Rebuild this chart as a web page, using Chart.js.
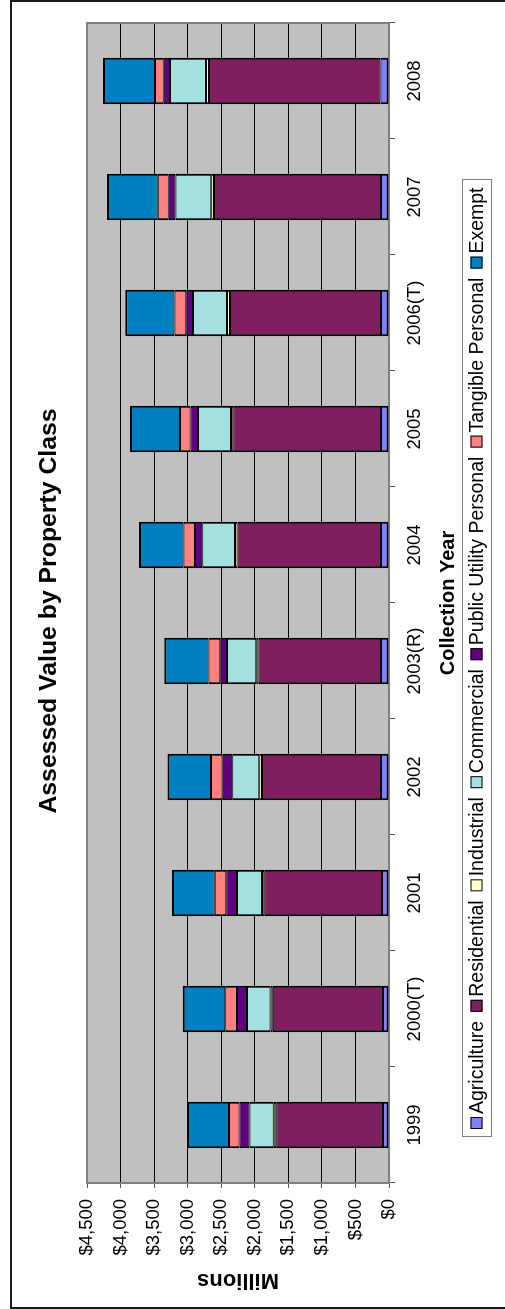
<!DOCTYPE html>
<html>
<head>
<meta charset="utf-8">
<title>Assessed Value by Property Class</title>
<script src="https://cdn.jsdelivr.net/npm/chart.js@4/dist/chart.umd.min.js"></script>
<style>
  html, body { margin: 0; padding: 0; background: #fff; overflow: hidden; }
  /* the landscape chart is turned a quarter turn counter-clockwise to fit the portrait page */
  #wrap {
    position: absolute; left: 0; top: 0;
    width: 1309px; height: 505px;
    transform-origin: 0 0;
    transform: translateY(1309px) rotate(-90deg);
  }
  canvas { display: block; }
</style>
</head>
<body>
<div id="wrap"><canvas id="c" width="1309" height="505"></canvas></div>
<script>
// Assessed value by property class, millions of dollars, per collection year
const years = ['1999', '2000(T)', '2001', '2002', '2003(R)', '2004', '2005', '2006(T)', '2007', '2008'];
const agriculture   = [89, 89, 104, 119, 119, 119, 119, 119, 119, 125];
const residential   = [1590, 1645, 1754, 1773, 1824, 2137, 2201, 2250, 2488, 2558];
const industrial    = [40, 30, 35, 40, 35, 40, 35, 45, 40, 45];
const commercial    = [358, 352, 372, 402, 437, 487, 492, 507, 536, 536];
const publicUtility = [149, 149, 159, 145, 100, 109, 110, 100, 100, 94];
const tangible      = [158, 174, 174, 173, 174, 170, 158, 174, 164, 130];
const exempt        = [626, 636, 635, 647, 660, 665, 745, 735, 754, 775];
const valueTicks    = [0, 500, 1000, 1500, 2000, 2500, 3000, 3500, 4000, 4500];

const FONT = '"Liberation Sans", Arial, Helvetica, sans-serif';
Chart.defaults.font.family = FONT;
Chart.defaults.color = '#000';

const money = v => '$' + Number(v).toLocaleString('en-US');

// Background, plot frame, title, boxed legend and outer border
const frame = {
  id: 'frame',
  beforeDraw(chart) {
    const { ctx, chartArea: a } = chart;
    ctx.save();
    ctx.fillStyle = '#fff';
    ctx.fillRect(0, 0, chart.width, chart.height);
    ctx.fillStyle = '#C0C0C0';
    ctx.fillRect(a.left, a.top, a.right - a.left, a.bottom - a.top);
    ctx.restore();
  },
  beforeDatasetsDraw(chart) {
    const { ctx, chartArea: a } = chart;
    ctx.save();
    ctx.strokeStyle = '#808080';
    ctx.lineWidth = 2;
    ctx.strokeRect(a.left, a.top, a.right - a.left, a.bottom - a.top);
    ctx.restore();
  },
  afterDraw(chart) {
    const { ctx } = chart;
    ctx.save();
    // outer chart border
    ctx.strokeStyle = '#1a1a1a';
    ctx.lineWidth = 2;
    ctx.strokeRect(1, 11, chart.width - 2, chart.height + 20);

    // title
    ctx.fillStyle = '#000';
    ctx.font = 'bold 24.8px ' + FONT;
    ctx.textAlign = 'center';
    ctx.textBaseline = 'middle';
    ctx.fillText('Assessed Value by Property Class', 698, 49);

    // legend
    ctx.font = '19.5px ' + FONT;
    ctx.textAlign = 'left';
    const box = 12, gapIn = 3, gapOut = 9;
    const items = chart.data.datasets.map(d => ({
      label: d.label, color: d.backgroundColor, w: ctx.measureText(d.label).width
    }));
    const content = items.reduce((s, it) => s + box + gapIn + it.w, 0) + gapOut * (items.length - 1);
    const cy = 476.5;
    let x = Math.round(650.5 - content / 2);
    ctx.strokeStyle = '#808080';
    ctx.lineWidth = 1;
    ctx.strokeRect(x - 7.5, 462.5, Math.round(content) + 15, 29);
    items.forEach(it => {
      ctx.fillStyle = it.color;
      ctx.fillRect(x, cy - 6, box, box);
      ctx.strokeStyle = '#000';
      ctx.strokeRect(x + 0.5, cy - 5.5, box - 1, box - 1);
      ctx.fillStyle = '#000';
      ctx.fillText(it.label, x + box + gapIn, cy + 1);
      x += box + gapIn + it.w + gapOut;
    });
    ctx.restore();
  }
};

const series = [
  ['Agriculture', agriculture, '#8080FF'],
  ['Residential', residential, '#7F1F5F'],
  ['Industrial', industrial, '#FFFFC8'],
  ['Commercial', commercial, '#A4E0E0'],
  ['Public Utility Personal', publicUtility, '#600080'],
  ['Tangible Personal', tangible, '#FF8080'],
  ['Exempt', exempt, '#0080C0']
];

new Chart(document.getElementById('c'), {
  type: 'bar',
  data: {
    labels: years,
    datasets: series.map(([label, data, color], i) => ({
      label, data,
      backgroundColor: color,
      borderColor: '#000',
      borderSkipped: false,
      borderWidth: { left: 2, right: 2, top: i === series.length - 1 ? 2 : 1, bottom: i === 0 ? 2 : 1 },
      categoryPercentage: 1,
      barPercentage: 0.4
    }))
  },
  options: {
    responsive: false,
    animation: false,
    devicePixelRatio: 1,
    layout: { padding: { left: 0, top: 87, right: 23, bottom: 0 } },
    plugins: {
      legend: { display: false },
      title: { display: false },
      tooltip: { enabled: false }
    },
    scales: {
      x: {
        stacked: true,
        offset: true,
        grid: { offset: true, drawOnChartArea: false, drawTicks: true, tickLength: 6, tickColor: '#555' },
        border: { display: false },
        ticks: { font: { size: 18.5 }, padding: 9, maxRotation: 0, autoSkip: false },
        title: { display: true, text: 'Collection Year', font: { size: 20, weight: 'bold' }, padding: { top: 0, bottom: 45 } },
        afterFit: s => { s.height = 116; }
      },
      y: {
        stacked: true,
        min: 0, max: 4500,
        afterBuildTicks: s => { s.ticks = valueTicks.map(v => ({ value: v })); },
        grid: { color: '#000', lineWidth: 1, drawTicks: true, tickLength: 5, tickColor: '#555' },
        border: { display: false },
        ticks: { font: { size: 18.5 }, padding: 11, callback: v => money(v) },
        title: { display: true, text: 'Millions', font: { size: 22, weight: 'bold' }, padding: { top: 16, bottom: 0 } },
        afterFit: s => { s.width = 126; }
      }
    }
  },
  plugins: [frame]
});
</script>
</body>
</html>
